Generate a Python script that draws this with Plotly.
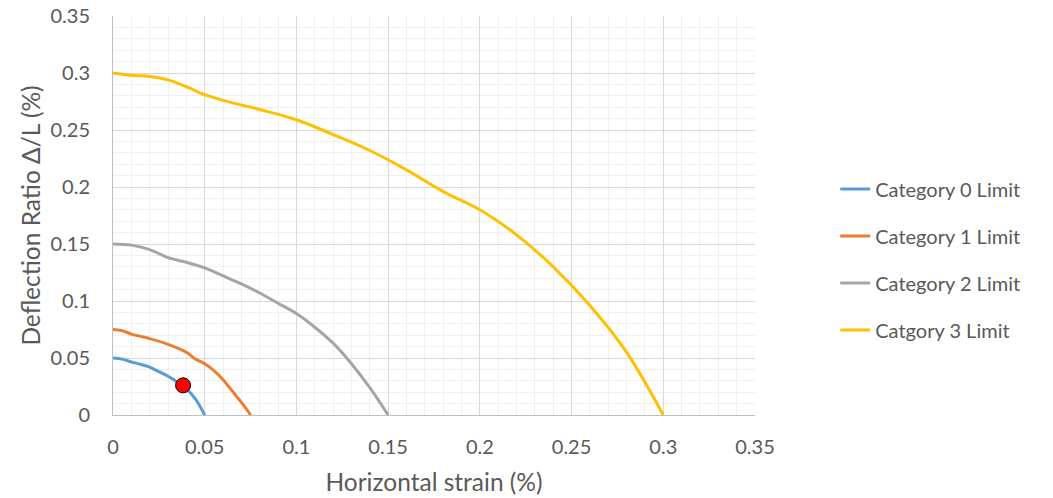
import plotly.graph_objects as go

# Category 0 limit
cat0_x = [0, 0.005, 0.01, 0.015, 0.02, 0.025, 0.03, 0.035, 0.04, 0.045, 0.05]
cat0_y = [0.05, 0.049, 0.0465, 0.0445, 0.042, 0.038, 0.034, 0.029, 0.023, 0.014, 0]

# Category 1 limit
cat1_x = [0, 0.005, 0.01, 0.015, 0.02, 0.03, 0.04, 0.045, 0.05, 0.055, 0.06, 0.065, 0.07, 0.075]
cat1_y = [0.075, 0.074, 0.071, 0.069, 0.067, 0.062, 0.055, 0.049, 0.045, 0.039, 0.031, 0.021, 0.011, 0]

# Category 2 limit
cat2_x = [0, 0.01, 0.02, 0.03, 0.04, 0.05, 0.06, 0.07, 0.08, 0.09, 0.1, 0.11, 0.12, 0.13, 0.14, 0.15]
cat2_y = [0.15, 0.149, 0.145, 0.138, 0.134, 0.129, 0.122, 0.115, 0.107, 0.098, 0.089, 0.077, 0.063, 0.045, 0.024, 0]

# Category 3 limit
cat3_x = [0, 0.01, 0.02, 0.03, 0.04, 0.05, 0.06, 0.08, 0.1, 0.12, 0.14, 0.16, 0.18, 0.2, 0.22, 0.24, 0.26, 0.28, 0.3]
cat3_y = [0.3, 0.298, 0.297, 0.294, 0.288, 0.281, 0.276, 0.268, 0.259, 0.246, 0.232, 0.215, 0.196, 0.180, 0.158, 0.130, 0.096, 0.055, 0]

# Observed point
point_x = [0.0382]
point_y = [0.026]

series = [
    ("Category 0 Limit", cat0_x, cat0_y, "#5B9BD5"),
    ("Category 1 Limit", cat1_x, cat1_y, "#ED7D31"),
    ("Category 2 Limit", cat2_x, cat2_y, "#A5A5A5"),
    ("Catgory 3 Limit", cat3_x, cat3_y, "#FFC000"),
]

FONT = "Lato, 'Open Sans', sans-serif"
TXT = "#595959"

fig = go.Figure()
for i, (name, xs, ys, col) in enumerate(series):
    fig.add_trace(go.Scatter(
        x=xs, y=ys, name=name, mode="lines",
        line=dict(color=col, width=3, shape="spline", smoothing=1.0),
        legendgroup=f"g{i}",
    ))

fig.add_trace(go.Scatter(
    x=point_x, y=point_y, mode="markers", showlegend=False,
    marker=dict(color="#FF0000", size=15, line=dict(color="#000000", width=1)),
))

fig.update_layout(
    width=1053, height=498, autosize=False,
    margin=dict(l=113, r=298, t=16, b=83),
    paper_bgcolor="white", plot_bgcolor="white",
    font=dict(family=FONT, size=20, color=TXT),
    legend=dict(
        x=1.125, y=0.39, xanchor="left", yanchor="middle",
        font=dict(family=FONT, size=20, color=TXT),
        tracegroupgap=18, traceorder="grouped",
        bgcolor="rgba(0,0,0,0)",
    ),
    xaxis=dict(
        range=[0, 0.35], dtick=0.05, tick0=0, automargin=False,
        showgrid=True, gridcolor="#D9D9D9", gridwidth=1,
        minor=dict(dtick=0.01, showgrid=True, gridcolor="#F0F0F0", gridwidth=1),
        showline=True, linecolor="#BFBFBF", linewidth=1,
        zeroline=False, ticks="", ticklabelstandoff=14,
        tickfont=dict(family=FONT, size=20, color=TXT),
        title=dict(text="Horizontal strain (%)", font=dict(family=FONT, size=24.5, color=TXT), standoff=16),
    ),
    yaxis=dict(
        range=[0, 0.35], dtick=0.05, tick0=0, automargin=False,
        showgrid=True, gridcolor="#D9D9D9", gridwidth=1,
        minor=dict(dtick=0.01, showgrid=True, gridcolor="#F0F0F0", gridwidth=1),
        showline=True, linecolor="#BFBFBF", linewidth=1,
        zeroline=False, ticks="", ticklabelstandoff=18,
        tickfont=dict(family=FONT, size=20, color=TXT),
        title=dict(text="Deflection Ratio Δ/L (%)", font=dict(family=FONT, size=24.5, color=TXT), standoff=2),
    ),
)

fig.write_html("out.html")
